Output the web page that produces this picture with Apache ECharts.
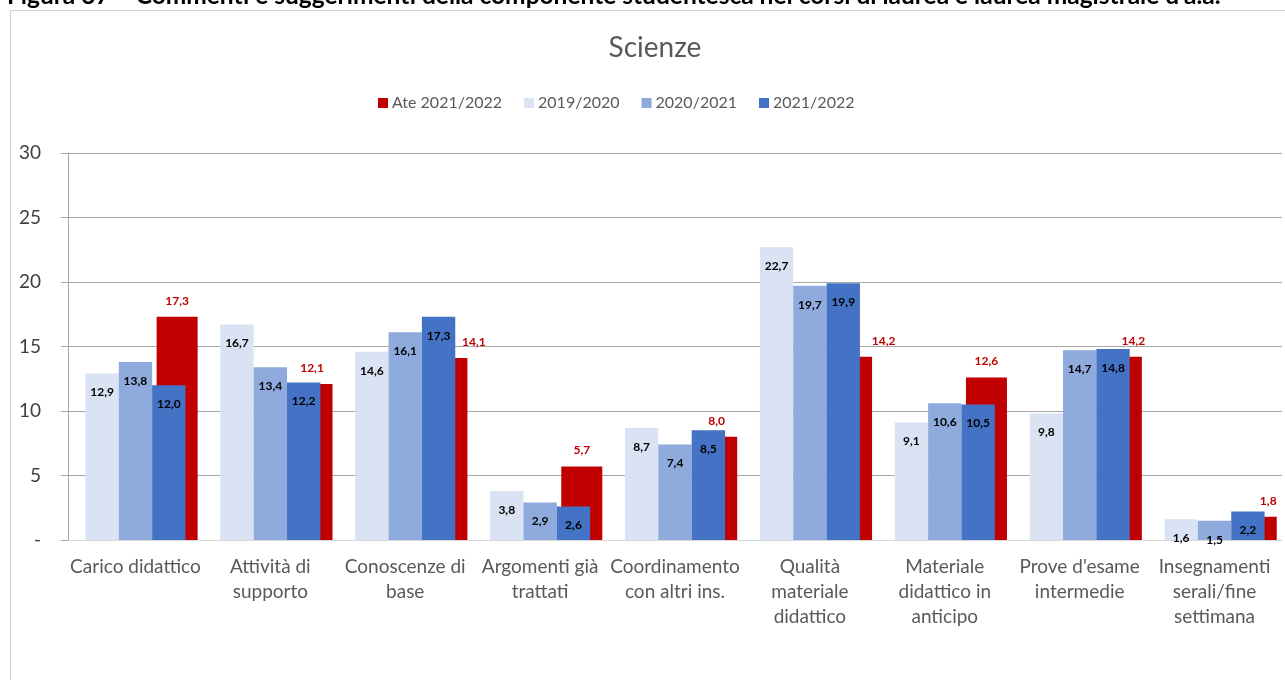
<!DOCTYPE html>
<html>
<head>
<meta charset="utf-8">
<script src="https://cdn.jsdelivr.net/npm/echarts@6/dist/echarts.min.js"></script>
<style>html,body{margin:0;padding:0;background:#fff;}#chart{width:1285px;height:680px;}</style>
</head>
<body>
<div id="chart"></div>
<script>
const categories = ["Carico didattico", "Attività di\nsupporto", "Conoscenze di\nbase", "Argomenti già\ntrattati", "Coordinamento\ncon altri ins.", "Qualità\nmateriale\ndidattico", "Materiale\ndidattico in\nanticipo", "Prove d'esame\nintermedie", "Insegnamenti\nserali/fine\nsettimana"];
const ate2122 = [17.3, 12.1, 14.1, 5.7, 8.0, 14.2, 12.6, 14.2, 1.8];
const s1920 = [12.9, 16.7, 14.6, 3.8, 8.7, 22.7, 9.1, 9.8, 1.6];
const s2021 = [13.8, 13.4, 16.1, 2.9, 7.4, 19.7, 10.6, 14.7, 1.5];
const s2122 = [12.0, 12.2, 17.3, 2.6, 8.5, 19.9, 10.5, 14.8, 2.2];
const yTicks = ["-", "5", "10", "15", "20", "25", "30"];

const FONT = 'Lato, "Open Sans", sans-serif';
const fmt = p => p.value.toFixed(1).replace('.', ',');
// Ate labels that were moved sideways in the original (category index -> x offset)
const ateLabelShift = { 2: 27, 5: 32, 7: 12, 8: 12 };

function blueSeries(name, data, color) {
  return {
    name, type: 'bar', xAxisIndex: 0, data,
    itemStyle: { color },
    barGap: '0%', barCategoryGap: '25.8%', z: 3,
    label: { show: true, position: 'insideTop', distance: 13, formatter: fmt,
      color: '#000', fontWeight: 'bold', fontSize: 12, fontFamily: FONT }
  };
}

const chart = echarts.init(document.getElementById('chart'), null, { renderer: 'canvas' });
chart.setOption({
  animation: false,
  backgroundColor: '#fff',
  textStyle: { fontFamily: FONT },
  title: { text: 'Scienze', left: 650, top: 29, textAlign: 'center',
    textStyle: { fontSize: 28, fontWeight: 'normal', color: '#595959', fontFamily: FONT } },
  legend: {
    data: ['Ate 2021/2022', '2019/2020', '2020/2021', '2021/2022'],
    left: 373, top: 90, itemWidth: 10, itemHeight: 10, itemGap: 22,
    icon: 'rect',
    textStyle: { fontSize: 16, color: '#595959', fontFamily: FONT, padding: [0, 0, 0, -1] }
  },
  graphic: [
    { type: 'rect', shape: { x: 10.5, y: 10.5, width: 1300, height: 700 },
      style: { fill: null, stroke: '#d0d0d0', lineWidth: 1 }, silent: true },
    { type: 'text', x: 7, y: -4,
      style: { text: "Figura 37 – Commenti e suggerimenti della componente studentesca nei corsi di laurea e laurea magistrale d'a.a.",
        fontSize: 24.5, fontWeight: 'bold', fill: '#000', fontFamily: FONT, textVerticalAlign: 'middle' } }
  ],
  grid: { left: 68, right: 3, top: 153, bottom: 140, containLabel: false },
  xAxis: [
    { type: 'category', data: categories, gridIndex: 0,
      axisLine: { lineStyle: { color: '#d9d9d9', width: 1 } },
      axisTick: { show: false },
      axisLabel: { interval: 0, margin: 14, fontSize: 19, lineHeight: 25, color: '#595959', fontFamily: FONT } },
    { type: 'category', data: categories, gridIndex: 0, show: false }
  ],
  yAxis: {
    type: 'value', min: 0, max: 30, interval: 5,
    axisLine: { show: true, lineStyle: { color: '#a6a6a6' } },
    axisTick: { show: true, inside: false, length: 7, lineStyle: { color: '#a6a6a6' } },
    splitLine: { lineStyle: { color: '#a6a6a6' } },
    axisLabel: { margin: 27, fontSize: 19, color: '#404040', fontFamily: FONT,
      formatter: (v) => yTicks[Math.round(v / 5)] }
  },
  series: [
    { name: '_spacer', type: 'bar', xAxisIndex: 1, data: categories.map(() => null),
      barWidth: '61.8%', barGap: '0%', itemStyle: { color: 'rgba(0,0,0,0)' }, silent: true },
    { name: 'Ate 2021/2022', type: 'bar', xAxisIndex: 1,
      data: ate2122.map((v, i) => ateLabelShift[i] ? { value: v, label: { offset: [ateLabelShift[i], 0] } } : v),
      barWidth: '30.4%', barGap: '0%', z: 1,
      itemStyle: { color: '#c00000' },
      label: { show: true, position: 'top', distance: 10, formatter: fmt,
        color: '#c00000', fontWeight: 'bold', fontSize: 12, fontFamily: FONT } },
    blueSeries('2019/2020', s1920, '#dae3f3'),
    blueSeries('2020/2021', s2021, '#8faadc'),
    blueSeries('2021/2022', s2122, '#4472c4')
  ]
});
</script>
</body>
</html>
